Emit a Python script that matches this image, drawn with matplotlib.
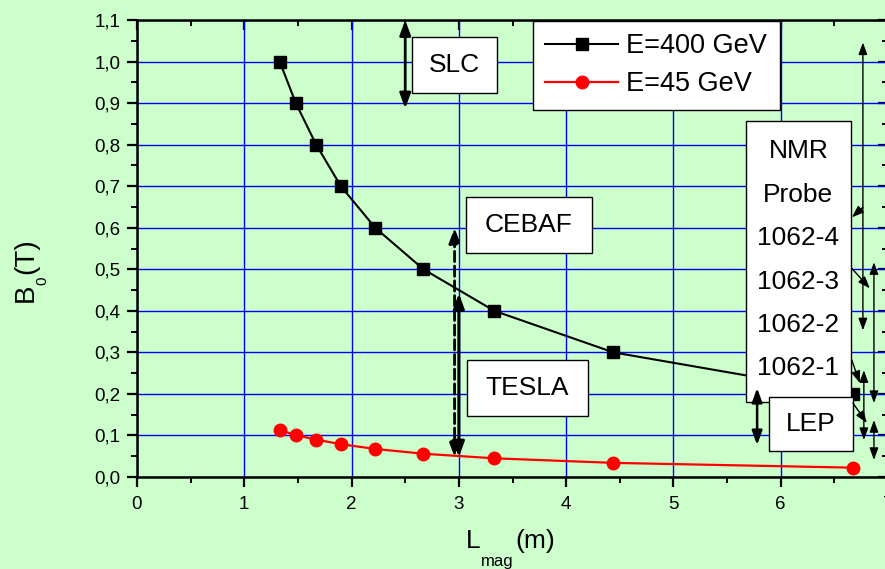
import numpy as np
import matplotlib
matplotlib.use('Agg')
import matplotlib.pyplot as plt
from matplotlib.patches import Rectangle
from matplotlib.ticker import MultipleLocator

plt.rcParams['font.family'] = 'Liberation Sans'

# data
L_400 = [1.33, 1.48, 1.67, 1.90, 2.22, 2.67, 3.33, 4.44, 6.67]
B_400 = [1.0, 0.9, 0.8, 0.7, 0.6, 0.5, 0.4, 0.3, 0.2]
L_45 = [1.33, 1.48, 1.67, 1.90, 2.22, 2.67, 3.33, 4.44, 6.67]
B_45 = [0.1125, 0.101, 0.09, 0.079, 0.0675, 0.056, 0.045, 0.034, 0.0225]

x_ticks = [0, 1, 2, 3, 4, 5, 6, 7]
x_labels = ['0', '1', '2', '3', '4', '5', '6', '7']
y_ticks = [0.0, 0.1, 0.2, 0.3, 0.4, 0.5, 0.6, 0.7, 0.8, 0.9, 1.0, 1.1]
y_labels = ['0,0', '0,1', '0,2', '0,3', '0,4', '0,5', '0,6', '0,7', '0,8', '0,9', '1,0', '1,1']

nmr_lines = ['NMR', 'Probe', '1062-4', '1062-3', '1062-2', '1062-1']

bg = '#ccffcc'
W, H = 885, 569

fig = plt.figure(figsize=(W / 100, H / 100), dpi=100, facecolor=bg)
ax = fig.add_axes([137 / W, 92 / H, 751 / W, 457 / H], facecolor=bg)

ax.plot(L_400, B_400, color='black', lw=1.5, marker='s', ms=8, label='E=400 GeV', zorder=3)
ax.plot(L_45, B_45, color='red', lw=1.6, marker='o', ms=9, label='E=45 GeV', zorder=3)

ax.set_xlim(0, 7)
ax.set_ylim(0, 1.1)
ax.set_xticks(x_ticks)
ax.set_xticklabels(x_labels)
ax.set_yticks(y_ticks)
ax.set_yticklabels(y_labels)
ax.xaxis.set_minor_locator(MultipleLocator(0.5))
ax.yaxis.set_minor_locator(MultipleLocator(0.05))
ax.grid(True, which='major', color='#0000ff', lw=1.0)
ax.set_axisbelow(True)
ax.tick_params(which='major', direction='out', length=7, width=1.6, labelsize=13.5)
ax.tick_params(axis='y', which='major', pad=5)
ax.tick_params(axis='x', which='major', pad=7)
ax.tick_params(which='minor', direction='out', length=4, width=1.4)
for s in ax.spines.values():
    s.set_linewidth(1.8)

# mirror ticks pointing inward on top and right
top = ax.secondary_xaxis('top')
top.set_xticks(x_ticks)
top.xaxis.set_minor_locator(MultipleLocator(0.5))
top.tick_params(which='major', direction='in', length=7, width=1.6, labeltop=False)
top.tick_params(which='minor', direction='in', length=4, width=1.4)
right = ax.secondary_yaxis('right')
right.set_yticks(y_ticks)
right.yaxis.set_minor_locator(MultipleLocator(0.05))
right.tick_params(which='major', direction='in', length=7, width=1.6, labelright=False)
right.tick_params(which='minor', direction='in', length=4, width=1.4)

leg = ax.legend(loc='upper left', bbox_to_anchor=(533 / W, 1 - 21 / H), bbox_transform=fig.transFigure,
                fontsize=19.5, frameon=True, fancybox=False, edgecolor='black', framealpha=1,
                borderpad=0.45, labelspacing=0.45, handlelength=2.7, handletextpad=0.3, borderaxespad=0)
leg.get_frame().set_linewidth(1.0)
leg.set_zorder(7)


def box(x0, y0, x1, y1, txt=None):
    ax.add_patch(Rectangle((x0, y0), x1 - x0, y1 - y0, fc='white', ec='black', lw=1.0, zorder=5))
    if txt:
        ax.text((x0 + x1) / 2, (y0 + y1) / 2, txt, ha='center', va='center', fontsize=19, zorder=5.5)


def arrow(x0, y0, x1, y1, style='<|-|>', lw=1.0, ls='-', ms=12):
    ax.annotate('', xy=(x1, y1), xytext=(x0, y0), annotation_clip=False, zorder=6,
                arrowprops=dict(arrowstyle=style + ',head_length=0.6,head_width=0.22', color='black',
                                lw=lw, ls=ls, shrinkA=0, shrinkB=0, mutation_scale=ms))


box(2.563, 0.925, 3.355, 1.058, 'SLC')
box(3.066, 0.538, 4.240, 0.673, 'CEBAF')
box(3.075, 0.147, 4.203, 0.281, 'TESLA')
box(5.676, 0.180, 6.654, 0.858)
for i, t in enumerate(nmr_lines):
    ax.text(6.165, 0.784 - i * 0.1045, t, ha='center', va='center', fontsize=19, zorder=5.5)
box(5.890, 0.0625, 6.673, 0.192, 'LEP')

arrow(2.5, 0.887, 2.5, 1.1, lw=2.0, ms=15)
arrow(2.96, 0.048, 2.96, 0.6, lw=2.0, ls='--', ms=15)
arrow(3.0, 0.048, 3.0, 0.442, lw=2.2, ms=15)
arrow(5.78, 0.077, 5.78, 0.214, lw=1.8, ms=14)

arrow(6.766, 0.353, 6.766, 1.046)
arrow(6.766, 0.649, 6.663, 0.625, style='-|>')
arrow(6.663, 0.502, 6.831, 0.454, style='-|>')
arrow(6.869, 0.178, 6.869, 0.517)
arrow(6.663, 0.281, 6.738, 0.226, style='-|>')
arrow(6.775, 0.089, 6.775, 0.257)
arrow(6.673, 0.178, 6.803, 0.130, style='-|>')
arrow(6.869, 0.041, 6.869, 0.137)

# axis titles with low-set subscripts
fig.text(466 / W, 1 - 548 / H, 'L', fontsize=19, ha='left', va='baseline')
fig.text(481 / W, 1 - 566 / H, 'mag', fontsize=12, ha='left', va='baseline')
fig.text(515 / W, 1 - 548 / H, '(m)', fontsize=19, ha='left', va='baseline')

fig.text(33 / W, 1 - 302 / H, 'B', fontsize=20, rotation=90, rotation_mode='anchor',
         ha='left', va='baseline')
fig.text(46 / W, 1 - 285 / H, '0', fontsize=11, rotation=90, rotation_mode='anchor',
         ha='left', va='baseline')
fig.text(33 / W, 1 - 274 / H, '(T)', fontsize=20, rotation=90, rotation_mode='anchor',
         ha='left', va='baseline')

fig.savefig('out.png', dpi=100, facecolor=bg)
